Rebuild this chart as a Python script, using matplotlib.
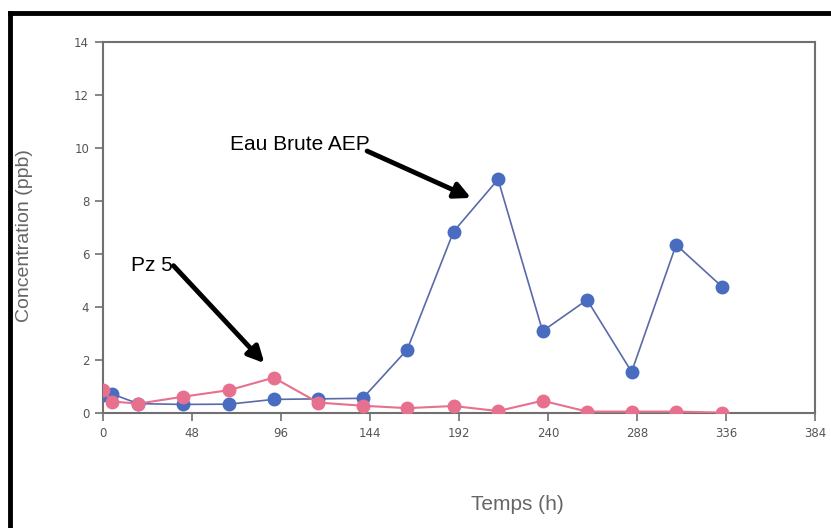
import matplotlib
matplotlib.use("Agg")
import matplotlib.pyplot as plt
from matplotlib.lines import Line2D

# temps (h) et concentrations (ppb)
temps = [0, 5, 19, 43, 68, 92, 116, 140, 164, 189, 213, 237, 261, 285, 309, 334]
eau_brute = [0.68, 0.71, 0.35, 0.32, 0.33, 0.51, 0.53, 0.55, 2.39, 6.85, 8.82,
             3.09, 4.27, 1.55, 6.35, 4.75]
pz5 = [0.86, 0.43, 0.35, 0.61, 0.86, 1.33, 0.39, 0.27, 0.18, 0.26, 0.07,
       0.46, 0.05, 0.05, 0.05, 0.01]

x_ticks = [0, 48, 96, 144, 192, 240, 288, 336, 384]
y_ticks = [0, 2, 4, 6, 8, 10, 12, 14]

gris = '#707070'
bleu = '#4a6cc0'
rose = '#e8708f'

fig = plt.figure(figsize=(8.31, 5.28), dpi=100)
ax = fig.add_axes([0.124, 0.218, 0.857, 0.702])

ax.plot(temps, eau_brute, color='#5a6aa8', lw=1.2, marker='o', ms=9,
        markerfacecolor=bleu, markeredgecolor=bleu, zorder=3)
ax.plot(temps, pz5, color=rose, lw=1.5, marker='o', ms=9,
        markerfacecolor=rose, markeredgecolor=rose, zorder=4)

ax.set_xlim(0, 384)
ax.set_ylim(0, 14)
ax.set_xticks(x_ticks)
ax.set_yticks(y_ticks)
for s in ax.spines.values():
    s.set_color(gris)
    s.set_linewidth(1.5)
ax.tick_params(colors=gris, labelcolor='#555555', labelsize=8.5, width=1.2,
               length=6, pad=4, direction='out')

fig.text(25 / 831, 1 - 236 / 528, 'Concentration (ppb)', rotation=90,
         ha='center', va='center', fontsize=14, color='#666666',
         family='Liberation Sans')
fig.text(517 / 831, 1 - 505 / 528, 'Temps (h)', ha='center', va='center',
         fontsize=15, color='#666666', family='Liberation Sans')

fleche = dict(arrowstyle='-|>', lw=3.5, color='black', mutation_scale=24,
              shrinkA=0, shrinkB=0)
ax.annotate('', xy=(198.4, 8.12), xytext=(142.4, 9.89), arrowprops=fleche)
ax.text(144, 10.15, 'Eau Brute AEP', ha='right', va='center', fontsize=15,
        family='Liberation Sans')
ax.annotate('', xy=(87, 1.88), xytext=(38, 5.56), arrowprops=fleche)
ax.text(37.5, 5.58, 'Pz 5', ha='right', va='center', fontsize=15,
        family='Liberation Sans')

# cadre noir autour de la figure
fig.add_artist(Line2D([10 / 831, 10 / 831], [0, 1 - 13 / 528],
                      color='black', lw=3.5))
fig.add_artist(Line2D([10 / 831, 1], [1 - 13 / 528, 1 - 13 / 528],
                      color='black', lw=3.5))

fig.savefig('out.png', dpi=100)
